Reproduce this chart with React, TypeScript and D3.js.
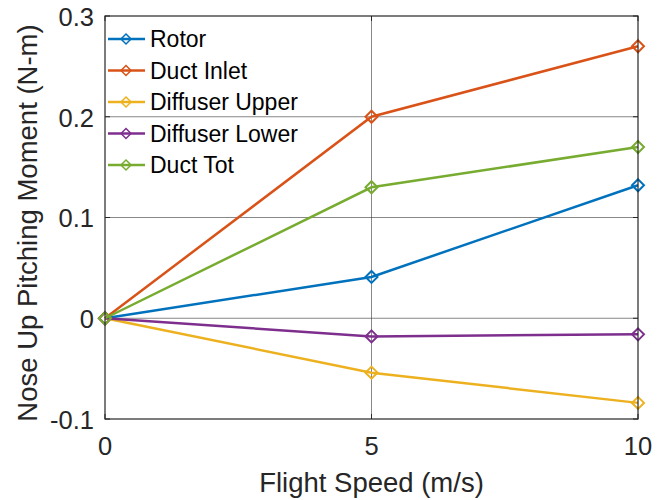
import React from 'react';
import * as d3 from 'd3';

const speeds = [0, 5, 10];
const seriesNames = ['Rotor', 'Duct Inlet', 'Diffuser Upper', 'Diffuser Lower', 'Duct Tot'];
const rotor = [0, 0.041, 0.132];
const ductInlet = [0, 0.2, 0.27];
const diffuserUpper = [0, -0.054, -0.084];
const diffuserLower = [0, -0.018, -0.016];
const ductTot = [0, 0.13, 0.17];
const seriesValues = [rotor, ductInlet, diffuserUpper, diffuserLower, ductTot];
const colors = ['#0072BD', '#D95319', '#EDB120', '#7E2F8E', '#77AC30'];
const xTicks = [0, 5, 10];
const yTicks = [-0.1, 0, 0.1, 0.2, 0.3];

const W = 669;
const H = 500;
const margin = { top: 16, right: 31, bottom: 81, left: 105 };
const font = 'Liberation Sans, Arial, Helvetica, sans-serif';

function Diamond({ cx, cy, color, r = 6, sw = 2 }: { cx: number; cy: number; color: string; r?: number; sw?: number }) {
    return (
        <path
            d={`M${cx},${cy - r}L${cx + r},${cy}L${cx},${cy + r}L${cx - r},${cy}Z`}
            fill="none"
            stroke={color}
            strokeWidth={sw}
        />
    );
}

export default function App() {
    const x = d3.scaleLinear().domain([0, 10]).range([margin.left, W - margin.right]);
    const y = d3.scaleLinear().domain([-0.1, 0.3]).range([H - margin.bottom, margin.top]);

    const line = d3.line<number>()
        .x((_, i) => x(speeds[i]))
        .y(d => y(d));

    const x0 = x.range()[0], x1 = x.range()[1];
    const y0 = y.range()[0], y1 = y.range()[1];

    return (
        <svg width={W} height={H} style={{ position: 'absolute', left: 0, top: 0 }} fontFamily={font}>
            <rect x={0} y={0} width={W} height={H} fill="#fff" />
            {/* grid */}
            {xTicks.slice(1, -1).map(t => (
                <line key={'gx' + t} x1={x(t)} x2={x(t)} y1={y0} y2={y1} stroke="#262626" strokeOpacity={0.55} strokeWidth={1} />
            ))}
            {yTicks.slice(1, -1).map(t => (
                <line key={'gy' + t} x1={x0} x2={x1} y1={y(t)} y2={y(t)} stroke="#262626" strokeOpacity={0.55} strokeWidth={1} />
            ))}
            {/* ticks */}
            {yTicks.map(t => (
                <g key={'ty' + t}>
                    <line x1={x0} x2={x0 + 5} y1={y(t)} y2={y(t)} stroke="#262626" />
                    <line x1={x1} x2={x1 - 5} y1={y(t)} y2={y(t)} stroke="#262626" />
                    <text x={x0 - 11} y={y(t) + 1} dy="0.35em" textAnchor="end" fontSize={25.5} fill="#262626">
                        {t}
                    </text>
                </g>
            ))}
            {xTicks.map(t => (
                <g key={'tx' + t}>
                    <line x1={x(t)} x2={x(t)} y1={y0} y2={y0 - 5} stroke="#262626" />
                    <line x1={x(t)} x2={x(t)} y1={y1} y2={y1 + 5} stroke="#262626" />
                    <text x={x(t)} y={455} textAnchor="middle" fontSize={25.5} fill="#262626">
                        {t}
                    </text>
                </g>
            ))}
            {/* series */}
            {seriesValues.map((vals, si) => (
                <g key={seriesNames[si]}>
                    <path d={line(vals) || ''} fill="none" stroke={colors[si]} strokeWidth={2.5} />
                    {vals.map((v, i) => (
                        <Diamond key={i} cx={x(speeds[i])} cy={y(v)} color={colors[si]} />
                    ))}
                </g>
            ))}
            {/* box */}
            <rect x={x0} y={y1} width={x1 - x0} height={y0 - y1} fill="none" stroke="#262626" strokeWidth={1.2} />
            {/* legend */}
            {seriesNames.map((name, i) => {
                const ly = 39 + i * 31.5;
                return (
                    <g key={'lg' + name}>
                        <line x1={108} x2={145} y1={ly} y2={ly} stroke={colors[i]} strokeWidth={2.5} />
                        <Diamond cx={126} cy={ly} color={colors[i]} r={5} sw={1.5} />
                        <text x={150} y={ly} dy="0.36em" fontSize={23} fill="#000">
                            {name}
                        </text>
                    </g>
                );
            })}
            {/* axis labels */}
            <text x={(x0 + x1) / 2} y={492} textAnchor="middle" fontSize={27.5} fill="#262626">
                Flight Speed (m/s)
            </text>
            <text transform={`translate(37,223) rotate(-90)`} textAnchor="middle" fontSize={27.5} fill="#262626">
                Nose Up Pitching Moment (N-m)
            </text>
        </svg>
    );
}
